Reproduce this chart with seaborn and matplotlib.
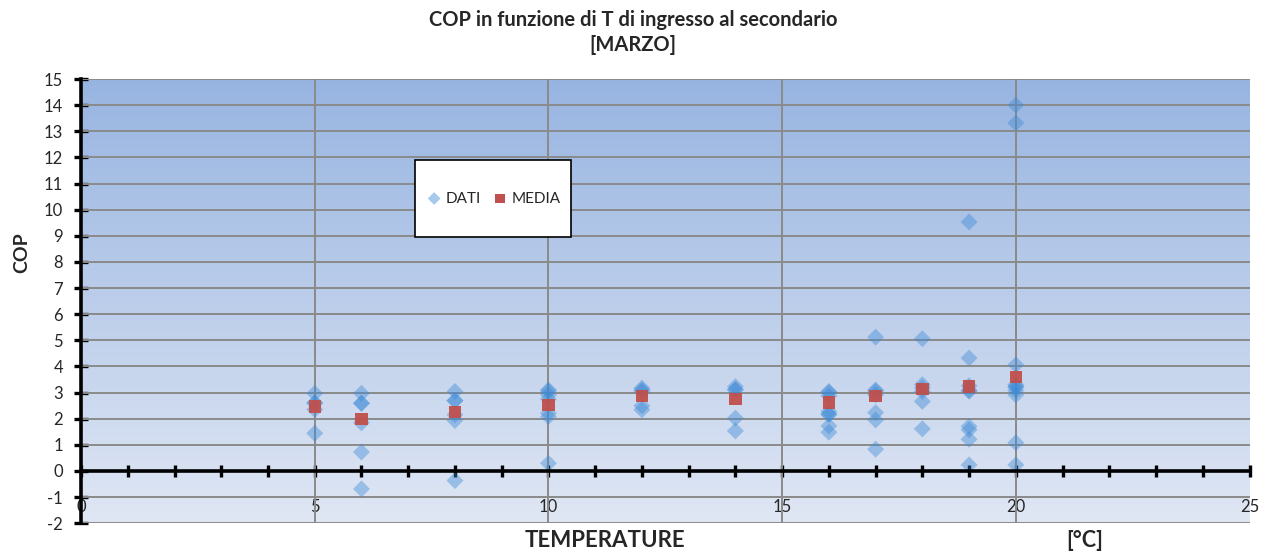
import numpy as np
import pandas as pd
import matplotlib
matplotlib.use("Agg")
import matplotlib.pyplot as plt
from matplotlib.ticker import MultipleLocator
from matplotlib.colors import LinearSegmentedColormap
from matplotlib.patches import Rectangle
import seaborn as sns

# Measured COP readings at each secondary inlet temperature
dati_temp = [5, 5, 5, 5, 5,
             6, 6, 6, 6, 6, 6,
             8, 8, 8, 8, 8, 8,
             10, 10, 10, 10, 10, 10, 10,
             12, 12, 12, 12, 12,
             14, 14, 14, 14, 14,
             16, 16, 16, 16, 16, 16, 16, 16,
             17, 17, 17, 17, 17, 17, 17,
             18, 18, 18, 18, 18, 18,
             19, 19, 19, 19, 19, 19, 19, 19, 19,
             20, 20, 20, 20, 20, 20, 20, 20, 20, 20]
dati_cop = [2.97, 2.60, 2.60, 2.35, 1.44,
            2.97, 2.59, 2.59, 1.84, 0.72, -0.69,
            3.04, 2.69, 2.69, 2.15, 1.93, -0.37,
            3.10, 3.05, 2.91, 2.75, 2.21, 2.08, 0.29,
            3.17, 3.10, 3.04, 2.49, 2.34,
            3.23, 3.12, 3.10, 2.02, 1.53,
            3.04, 3.00, 2.87, 2.27, 2.18, 2.15, 1.72, 1.48,
            5.12, 3.10, 3.05, 2.91, 2.23, 1.95, 0.83,
            5.06, 3.30, 3.18, 3.04, 2.66, 1.61,
            9.53, 4.32, 3.26, 3.08, 3.05, 1.70, 1.57, 1.21, 0.23,
            14.00, 13.32, 4.06, 3.30, 3.23, 3.20, 3.08, 2.91, 1.08, 0.23]

# Mean COP per temperature
media_temp = [5, 6, 8, 10, 12, 14, 16, 17, 18, 19, 20]
media_cop = [2.46, 1.98, 2.25, 2.53, 2.87, 2.75, 2.62, 2.86, 3.14, 3.23, 3.59]

x_ticks = [0, 5, 10, 15, 20, 25]
y_ticks = list(range(-2, 16))

sns.set_theme(style="white")
plt.rcParams["font.family"] = ["Lato", "DejaVu Sans"]

dati = pd.DataFrame({"T": dati_temp, "COP": dati_cop})
media = pd.DataFrame({"T": media_temp, "COP": media_cop})

fig = plt.figure(figsize=(12.66, 5.53), dpi=100)
ax = fig.add_axes([0.064, 0.054, 0.923, 0.803])

# Vertical gradient fill for the plot area
grad = LinearSegmentedColormap.from_list("bg", ["#e0e7f4", "#97b4e1"])
ax.imshow(np.linspace(0, 1, 256).reshape(-1, 1), cmap=grad, origin="lower",
          extent=[0, 25, -2, 15], aspect="auto", zorder=0)

ax.set_xlim(0, 25)
ax.set_ylim(-2, 15)

# Grid lines
for yv in y_ticks:
    ax.axhline(yv, color="#8a8a8a", lw=1.4, zorder=1)
for xv in [5, 10, 15, 20]:
    ax.axvline(xv, color="#8a8a8a", lw=1.4, zorder=1)

sns.scatterplot(data=dati, x="T", y="COP", ax=ax, marker="D", s=75,
                color="#3d8ad6", alpha=0.42, edgecolor="none",
                label="DATI", zorder=3)
sns.scatterplot(data=media, x="T", y="COP", ax=ax, marker="s", s=80,
                color="#c0504d", edgecolor="none", alpha=0.95,
                label="MEDIA", zorder=4)

# Axes styling: x axis crosses at COP = 0
for side in ["top", "right"]:
    ax.spines[side].set_visible(False)
ax.spines["bottom"].set_position(("data", 0))
for side in ["bottom", "left"]:
    ax.spines[side].set_linewidth(2.6)
    ax.spines[side].set_color("black")
    ax.spines[side].set_zorder(5)

ax.set_xticks(x_ticks)
ax.set_xticklabels([str(v) for v in x_ticks])
ax.xaxis.set_minor_locator(MultipleLocator(1))
ax.set_yticks(y_ticks)
ax.set_yticklabels([str(v) for v in y_ticks])
ax.tick_params(axis="x", which="both", direction="inout", length=9, width=2.4,
               color="black", labelsize=12, pad=16, bottom=True)
ax.tick_params(axis="y", which="both", direction="inout", length=10, width=2.4,
               color="black", labelsize=12, pad=8, left=True)
ax.set_xlabel("")
ax.set_ylabel("")

# Legend box with its entries centred inside
ax.add_patch(Rectangle((0.286, 0.644), 0.133, 0.173, transform=ax.transAxes,
                       facecolor="white", edgecolor="black", lw=1.2, zorder=6))
leg = ax.legend(loc="center", bbox_to_anchor=(0.354, 0.731), ncol=2,
                frameon=False, fontsize=11, handlelength=0.7,
                handletextpad=0.4, columnspacing=0.9, markerscale=0.75)
leg.set_zorder(7)
for h in leg.legend_handles:
    h.set_alpha(0.45 if h.get_label() == "DATI" else 1)

fig.text(0.5, 0.963, "COP in funzione di T di ingresso al secondario",
         ha="center", va="center", fontsize=14.5, fontweight="bold")
fig.text(0.5, 0.918, "[MARZO]", ha="center", va="center",
         fontsize=14.5, fontweight="bold")
fig.text(0.017, 0.543, "COP", rotation=90, ha="center", va="center",
         fontsize=14, fontweight="bold")
fig.text(0.478, 0.022, "TEMPERATURE", ha="center", va="center",
         fontsize=16, fontweight="bold")
fig.text(0.857, 0.022, "[°C]", ha="center", va="center",
         fontsize=15.5, fontweight="bold")

fig.savefig("out.png", dpi=100)
